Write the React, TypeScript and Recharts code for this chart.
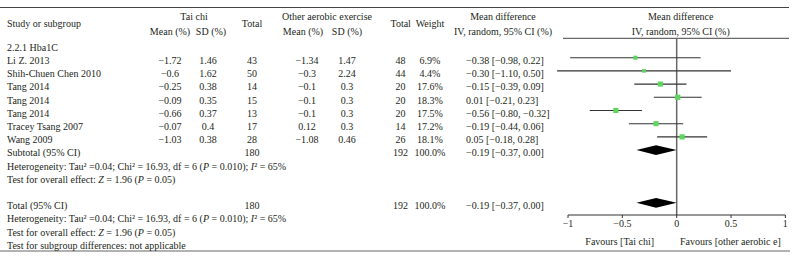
import { ComposedChart, ErrorBar, ReferenceArea, ReferenceLine, Scatter, XAxis, YAxis } from 'recharts';

const studies = ['Li Z. 2013', 'Shih-Chuen Chen 2010', 'Tang 2014', 'Tang 2014', 'Tang 2014', 'Tracey Tsang 2007', 'Wang 2009'];
const taiChiMean = [-1.72, -0.6, -0.25, -0.09, -0.66, -0.07, -1.03];
const taiChiSd = [1.46, 1.62, 0.38, 0.35, 0.37, 0.4, 0.38];
const taiChiN = [43, 50, 14, 15, 13, 17, 28];
const aerobicMean = [-1.34, -0.3, -0.1, -0.1, -0.1, 0.12, -1.08];
const aerobicSd = [1.47, 2.24, 0.3, 0.3, 0.3, 0.3, 0.46];
const aerobicN = [48, 44, 20, 20, 20, 14, 26];
const weights = [6.9, 4.4, 17.6, 18.3, 17.5, 17.2, 18.1];
const meanDiff = [-0.38, -0.3, -0.15, 0.01, -0.56, -0.19, 0.05];
const ciLow = [-0.98, -1.1, -0.39, -0.21, -0.8, -0.44, -0.18];
const ciHigh = [0.22, 0.5, 0.09, 0.23, -0.32, 0.06, 0.28];

// subtotal and total are the same single subgroup
const pooledRows = [8, 12];
const pooledLabels = ['Subtotal (95% CI)', 'Total (95% CI)'];
const pooledMd = -0.19;
const pooledLo = -0.37;
const pooledHi = 0.0;

const hetTau2 = '0.04';
const hetChi2 = '16.93';
const hetDf = 6;
const hetP = '0.010';
const hetI2 = 65;
const effectZ = '1.96';
const effectP = '0.05';

const xTicks = [-1, -0.5, 0, 0.5, 1];

const FONT = "'Liberation Serif', 'Times New Roman', Times, serif";
const INK = '#231f20';
const GREEN = '#5cd65c';

// table column anchors (layout only)
const COL = { label: 7, tcMean: 170, tcSd: 208, tcN: 252, aeMean: 307, aeSd: 347, aeN: 400.5, weight: 430, ci: 466 };
const BASE = 6.3;

const fmt = (v: number, d?: number) => (d === undefined ? String(v) : v.toFixed(d)).replace('-', '\u2212');
const ciText = (m: number, l: number, h: number) => `${fmt(m, 2)} [${fmt(l, 2)}, ${fmt(h, 2)}]`;
const sum = (a: number[]) => a.reduce((s, v) => s + v, 0);

const tableRows = [
  { x: 0, y: 0, kind: 'group' },
  ...studies.map((_, i) => ({ x: 0, y: i + 1, kind: 'study', i })),
  { x: 0, y: pooledRows[0], kind: 'pooled', i: 0 },
  { x: 0, y: 9, kind: 'het' },
  { x: 0, y: 10, kind: 'effect' },
  { x: 0, y: pooledRows[1], kind: 'pooled', i: 1 },
  { x: 0, y: 13, kind: 'het' },
  { x: 0, y: 14, kind: 'effect' },
  { x: 0, y: 15, kind: 'subgroup' },
];

const studyPoints = meanDiff.map((m, i) => ({
  x: m,
  y: i + 1,
  err: [m - ciLow[i], ciHigh[i] - m],
  w: weights[i],
}));

function Cell({ x, y, anchor = 'middle', children }: { x: number; y: number; anchor?: 'start' | 'middle' | 'end'; children: any }) {
  return (
    <text x={x} y={y} textAnchor={anchor} fill={INK} fontSize={10} fontFamily={FONT}>
      {children}
    </text>
  );
}

function TableRow(props: any) {
  const { cy, payload } = props;
  const y = cy + BASE;
  switch (payload.kind) {
    case 'group':
      return <Cell x={COL.label} y={y} anchor="start">2.2.1 Hba1C</Cell>;
    case 'study': {
      const i = payload.i;
      return (
        <g>
          <Cell x={COL.label} y={y} anchor="start">{studies[i]}</Cell>
          <Cell x={COL.tcMean} y={y}>{fmt(taiChiMean[i])}</Cell>
          <Cell x={COL.tcSd} y={y}>{fmt(taiChiSd[i])}</Cell>
          <Cell x={COL.tcN} y={y}>{taiChiN[i]}</Cell>
          <Cell x={COL.aeMean} y={y}>{fmt(aerobicMean[i])}</Cell>
          <Cell x={COL.aeSd} y={y}>{fmt(aerobicSd[i])}</Cell>
          <Cell x={COL.aeN} y={y}>{aerobicN[i]}</Cell>
          <Cell x={COL.weight} y={y}>{weights[i].toFixed(1)}%</Cell>
          <Cell x={COL.ci} y={y} anchor="start">{ciText(meanDiff[i], ciLow[i], ciHigh[i])}</Cell>
        </g>
      );
    }
    case 'pooled':
      return (
        <g>
          <Cell x={COL.label} y={y} anchor="start">{pooledLabels[payload.i]}</Cell>
          <Cell x={COL.tcN} y={y}>{sum(taiChiN)}</Cell>
          <Cell x={COL.aeN} y={y}>{sum(aerobicN)}</Cell>
          <Cell x={COL.weight} y={y}>{sum(weights).toFixed(1)}%</Cell>
          <Cell x={COL.ci} y={y} anchor="start">{ciText(pooledMd, pooledLo, pooledHi)}</Cell>
        </g>
      );
    case 'het':
      return (
        <Cell x={COL.label} y={y} anchor="start">
          Heterogeneity: Tau² ={hetTau2}; Chi² = {hetChi2}, df = {hetDf} (<tspan fontStyle="italic">P</tspan> = {hetP});{' '}
          <tspan fontStyle="italic">I</tspan>² = {hetI2}%
        </Cell>
      );
    case 'effect':
      return (
        <Cell x={COL.label} y={y} anchor="start">
          Test for overall effect: <tspan fontStyle="italic">Z</tspan> = {effectZ} (<tspan fontStyle="italic">P</tspan> = {effectP})
        </Cell>
      );
    default:
      return <Cell x={COL.label} y={y} anchor="start">Test for subgroup differences: not applicable</Cell>;
  }
}

function StudySquare(props: any) {
  const { cx, cy, payload } = props;
  const s = 2.2 + Math.sqrt(payload.w) * 0.7;
  return <rect x={cx - s / 2} y={cy - s / 2} width={s} height={s} fill={GREEN} />;
}

function diamond(md: number, lo: number, hi: number) {
  return (p: any) => {
    const f = (md - lo) / (hi - lo);
    const mx = p.x + p.width * f;
    const my = p.y + p.height / 2;
    return (
      <polygon
        points={`${p.x},${my} ${mx},${p.y} ${p.x + p.width},${my} ${mx},${p.y + p.height}`}
        fill="#000"
      />
    );
  };
}

function Headers() {
  return (
    <svg width={796} height={260} style={{ position: 'absolute', left: 0, top: 0 }}>
      <line x1={0} x2={789} y1={7.5} y2={7.5} stroke="#444" strokeWidth={1.2} />
      <line x1={563} x2={789} y1={38.3} y2={38.3} stroke="#444" strokeWidth={1} />
      <line x1={0} x2={790} y1={251} y2={251} stroke="#666" strokeWidth={1.2} />
      <Cell x={7} y={27.3} anchor="start">Study or subgroup</Cell>
      <Cell x={194} y={20}>Tai chi</Cell>
      <Cell x={170} y={34.8}>Mean (%)</Cell>
      <Cell x={211} y={34.8}>SD (%)</Cell>
      <Cell x={252} y={27.3}>Total</Cell>
      <Cell x={327} y={20}>Other aerobic exercise</Cell>
      <Cell x={303} y={34.8}>Mean (%)</Cell>
      <Cell x={347} y={34.8}>SD (%)</Cell>
      <Cell x={400.7} y={27.3}>Total</Cell>
      <Cell x={430} y={27.3}>Weight</Cell>
      <Cell x={503} y={20}>Mean difference</Cell>
      <Cell x={503} y={34.8}>IV, random, 95% CI (%)</Cell>
      <Cell x={680.7} y={20}>Mean difference</Cell>
      <Cell x={680.7} y={34.8}>IV, random, 95% CI (%)</Cell>
      <Cell x={619.7} y={245}>Favours [Tai chi]</Cell>
      <Cell x={680} y={245} anchor="start">Favours [other aerobic e]</Cell>
    </svg>
  );
}

const ROW_DOMAIN_TOP = -0.492;

export default function App() {
  return (
    <div style={{ position: 'absolute', left: 0, top: 0, width: 796, height: 260, background: '#fff' }}>
      <Headers />
      <div style={{ position: 'absolute', left: 0, top: 0 }}>
        <ComposedChart width={796} height={260} data={tableRows} margin={{ top: 38, right: 0, bottom: 0, left: 0 }}>
          <XAxis hide type="number" dataKey="x" domain={[0, 1]} />
          <YAxis hide type="number" dataKey="y" domain={[ROW_DOMAIN_TOP, 16.33]} reversed />
          <Scatter data={tableRows} shape={TableRow} isAnimationActive={false} />
        </ComposedChart>
      </div>
      <div style={{ position: 'absolute', left: 0, top: 0 }}>
        <ComposedChart width={796} height={260} margin={{ top: 38, right: 5.2, bottom: 15, left: 551.7 }}>
          <XAxis
            type="number"
            dataKey="x"
            domain={[-1.15, 1.05]}
            ticks={xTicks}
            tickFormatter={(v) => fmt(v)}
            axisLine={false}
            tickSize={3}
            height={30}
            tickLine={{ stroke: '#333' }}
            tick={{ fill: INK, fontSize: 10, fontFamily: FONT }}
          />
          <YAxis hide type="number" dataKey="y" domain={[ROW_DOMAIN_TOP, 12.92]} reversed />
          <ReferenceLine x={0} stroke="#666" strokeWidth={1.5} />
          <ReferenceLine
            segment={[{ x: -1, y: 12.92 }, { x: 1, y: 12.92 }]}
            stroke="#333"
            strokeWidth={1}
            ifOverflow="visible"
          />
          <Scatter data={studyPoints} shape={StudySquare} isAnimationActive={false}>
            <ErrorBar dataKey="err" direction="x" width={0} stroke="#333" strokeWidth={1.1} isAnimationActive={false} />
          </Scatter>
          {pooledRows.map((r) => (
            <ReferenceArea
              key={r}
              x1={pooledLo}
              x2={pooledHi}
              y1={r - 0.37}
              y2={r + 0.37}
              shape={diamond(pooledMd, pooledLo, pooledHi)}
            />
          ))}
        </ComposedChart>
      </div>
    </div>
  );
}
